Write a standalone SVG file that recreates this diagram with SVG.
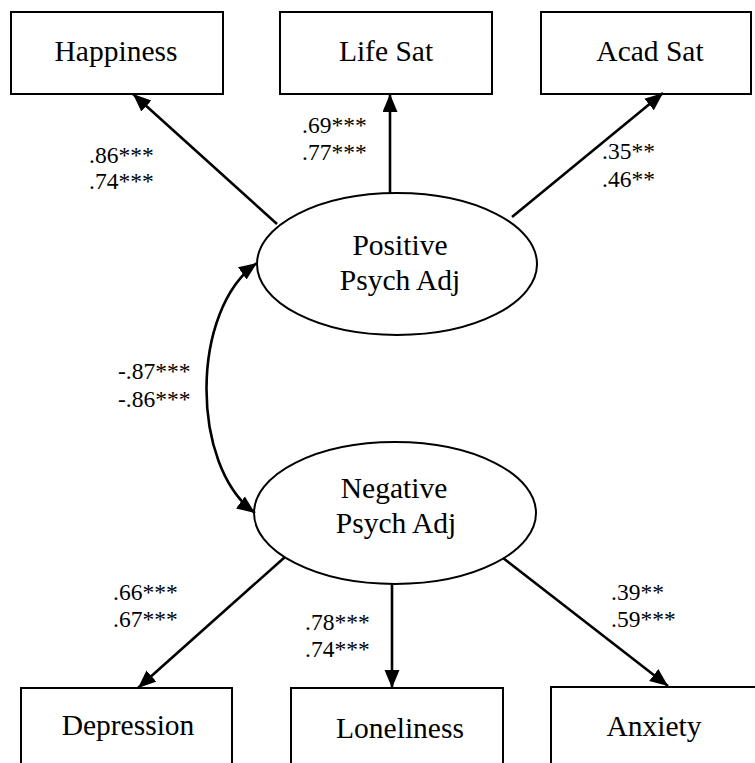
<svg xmlns="http://www.w3.org/2000/svg" width="755" height="763" viewBox="0 0 755 763">
<style>
.box{fill:#fff;stroke:#000;stroke-width:2}
.lat{fill:#fff;stroke:#000;stroke-width:2}
.lbl{font-family:"Liberation Serif","Times New Roman",serif;font-size:29.5px;fill:#000;text-anchor:middle}
.coef{font-family:"Liberation Serif","Times New Roman",serif;font-size:23.5px;fill:#000}
.edge{fill:none;stroke:#000;stroke-width:2.6}
</style>
<defs>
<marker id="ah" markerUnits="userSpaceOnUse" markerWidth="19" markerHeight="16" refX="18" refY="7.5" orient="auto-start-reverse" viewBox="0 0 19 16">
<path d="M0,0 L18,7.5 L0,15 z" fill="#000"/>
</marker>
</defs>
<rect width="755" height="763" fill="#fff"/>
<g id="happiness"><rect class="box" x="11" y="12" width="212" height="82"/><text class="lbl" x="116" y="61">Happiness</text></g>
<g id="lifesat"><rect class="box" x="280" y="12" width="212" height="82"/><text class="lbl" x="386" y="61">Life Sat</text></g>
<g id="acadsat"><rect class="box" x="541" y="12" width="210" height="82"/><text class="lbl" x="650" y="61">Acad Sat</text></g>
<g id="positive"><ellipse class="lat" cx="397" cy="264" rx="140" ry="71"/><text class="lbl" x="400" y="255">Positive</text><text class="lbl" x="400" y="290">Psych Adj</text></g>
<g id="negative"><ellipse class="lat" cx="395" cy="513" rx="141" ry="71"/><text class="lbl" x="394" y="498">Negative</text><text class="lbl" x="396" y="533">Psych Adj</text></g>
<g id="depression"><rect class="box" x="21" y="688" width="211" height="90"/><text class="lbl" x="128" y="735">Depression</text></g>
<g id="loneliness"><rect class="box" x="291" y="688" width="212" height="90"/><text class="lbl" x="400" y="738">Loneliness</text></g>
<g id="anxiety"><rect class="box" x="551" y="687" width="220" height="90"/><text class="lbl" x="654" y="736">Anxiety</text></g>
<g id="connectors">
<line class="edge" x1="277" y1="224" x2="133" y2="94" marker-end="url(#ah)"/>
<line class="edge" x1="390" y1="193" x2="390" y2="94" marker-end="url(#ah)"/>
<line class="edge" x1="512" y1="217" x2="663" y2="93" marker-end="url(#ah)"/>
<line class="edge" x1="285" y1="557" x2="138" y2="688" marker-end="url(#ah)"/>
<line class="edge" x1="392" y1="584" x2="392" y2="688" marker-end="url(#ah)"/>
<line class="edge" x1="503" y1="558" x2="668" y2="686" marker-end="url(#ah)"/>
<path class="edge" d="M257,263 C190,310 190,466 255,513" marker-start="url(#ah)" marker-end="url(#ah)"/>
</g>
<g id="labels">
<text class="coef" x="89" y="163">.86***</text><text class="coef" x="89" y="189">.74***</text>
<text class="coef" x="302" y="133">.69***</text><text class="coef" x="302" y="160">.77***</text>
<text class="coef" x="602" y="159">.35**</text><text class="coef" x="602" y="187">.46**</text>
<text class="coef" x="118" y="379">-.87***</text><text class="coef" x="118" y="407">-.86***</text>
<text class="coef" x="113" y="600">.66***</text><text class="coef" x="113" y="627">.67***</text>
<text class="coef" x="305" y="630">.78***</text><text class="coef" x="305" y="657">.74***</text>
<text class="coef" x="611" y="600">.39**</text><text class="coef" x="611" y="627">.59***</text>
</g>
</svg>
